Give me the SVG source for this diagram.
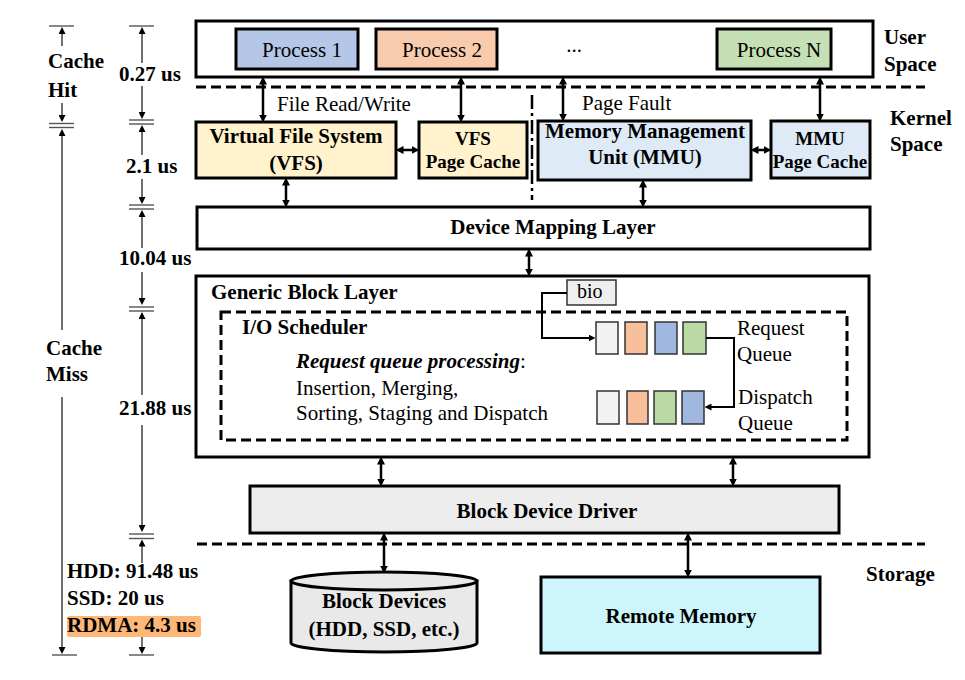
<svg xmlns="http://www.w3.org/2000/svg" width="965" height="680" viewBox="0 0 965 680">
<defs>
<marker id="ah" markerUnits="userSpaceOnUse" markerWidth="8" markerHeight="8" viewBox="0 0 8 8" refX="0.5" refY="4" orient="auto-start-reverse"><path d="M0,0 L8,4 L0,8 z" fill="#000"/></marker>
<marker id="sh" markerUnits="userSpaceOnUse" markerWidth="7" markerHeight="7" viewBox="0 0 7 7" refX="0.5" refY="3.5" orient="auto-start-reverse"><path d="M0,0 L7,3.5 L0,7 z" fill="#000"/></marker>
</defs>
<rect width="965" height="680" fill="#fff"/>

<g id="separators" stroke="#000" stroke-width="3" fill="none">
<line stroke-dasharray="10 5" x1="196" y1="87" x2="925" y2="87"/>
<line stroke-dasharray="10 5" x1="197" y1="544" x2="925" y2="544"/>
<line x1="532" y1="95" x2="532" y2="200" stroke-width="2.5" stroke-dasharray="14 4 3 4"/>
</g>

<g id="labels">
<text font-family="Liberation Serif, serif" font-size="21" font-weight="bold" x="884" y="44">User</text>
<text font-family="Liberation Serif, serif" font-size="21" font-weight="bold" x="884" y="71">Space</text>
<text font-family="Liberation Serif, serif" font-size="21" font-weight="bold" x="890" y="125">Kernel</text>
<text font-family="Liberation Serif, serif" font-size="21" font-weight="bold" x="890" y="151">Space</text>
<text font-family="Liberation Serif, serif" font-size="21" font-weight="bold" x="866" y="581">Storage</text>
<text font-family="Liberation Serif, serif" font-size="21" x="277" y="111">File Read/Write</text>
<text font-family="Liberation Serif, serif" font-size="21" x="582" y="110">Page Fault</text>
</g>

<g id="timeline" stroke="#333" stroke-width="1.4">
<line stroke="#555" x1="49" y1="26" x2="74" y2="26"/>
<line x1="62" y1="46" x2="62" y2="33.5" marker-end="url(#sh)"/>
<line x1="62" y1="103" x2="62" y2="115.5" marker-end="url(#sh)"/>
<line stroke="#555" x1="49" y1="123.5" x2="74" y2="123.5"/>
<line stroke="#555" x1="49" y1="127.5" x2="74" y2="127.5"/>
<line x1="62" y1="330" x2="62" y2="135.5" marker-end="url(#sh)"/>
<line x1="62" y1="397" x2="62" y2="647.5" marker-end="url(#sh)"/>
<line stroke="#555" x1="52" y1="655" x2="77" y2="655"/>
<line stroke="#555" x1="129" y1="26" x2="154" y2="26"/>
<line x1="142" y1="63" x2="142" y2="33.5" marker-end="url(#sh)"/>
<line x1="142" y1="86" x2="142" y2="112.5" marker-end="url(#sh)"/>
<line stroke="#555" x1="129" y1="120" x2="154" y2="120"/>
<line stroke="#555" x1="129" y1="124" x2="154" y2="124"/>
<line x1="142" y1="155" x2="142" y2="131.5" marker-end="url(#sh)"/>
<line x1="142" y1="179" x2="142" y2="197.5" marker-end="url(#sh)"/>
<line stroke="#555" x1="129" y1="205" x2="154" y2="205"/>
<line stroke="#555" x1="129" y1="209" x2="154" y2="209"/>
<line x1="142" y1="248" x2="142" y2="216.5" marker-end="url(#sh)"/>
<line x1="142" y1="272" x2="142" y2="298.5" marker-end="url(#sh)"/>
<line stroke="#555" x1="129" y1="307" x2="154" y2="307"/>
<line stroke="#555" x1="129" y1="311" x2="154" y2="311"/>
<line x1="142" y1="395" x2="142" y2="318.5" marker-end="url(#sh)"/>
<line x1="142" y1="425" x2="142" y2="525.5" marker-end="url(#sh)"/>
<line stroke="#555" x1="129" y1="534" x2="154" y2="534"/>
<line stroke="#555" x1="129" y1="538.5" x2="154" y2="538.5"/>
<line x1="142" y1="563" x2="142" y2="546" marker-end="url(#sh)"/>
<line x1="142" y1="636" x2="142" y2="647.5" marker-end="url(#sh)"/>
<line stroke="#555" x1="129" y1="655" x2="154" y2="655"/>
<rect stroke="none" x="67" y="616" width="134" height="21" rx="2" fill="#fdb877"/>
<text stroke="none" font-family="Liberation Serif, serif" font-size="21" font-weight="bold" x="48" y="68">Cache</text>
<text stroke="none" font-family="Liberation Serif, serif" font-size="21" font-weight="bold" x="48" y="97">Hit</text>
<text stroke="none" font-family="Liberation Serif, serif" font-size="21" font-weight="bold" x="46" y="355">Cache</text>
<text stroke="none" font-family="Liberation Serif, serif" font-size="21" font-weight="bold" x="46" y="381">Miss</text>
<text stroke="none" font-family="Liberation Serif, serif" font-size="21" font-weight="bold" x="119" y="81">0.27 us</text>
<text stroke="none" font-family="Liberation Serif, serif" font-size="21" font-weight="bold" x="126" y="173">2.1 us</text>
<text stroke="none" font-family="Liberation Serif, serif" font-size="21" font-weight="bold" x="119" y="265">10.04 us</text>
<text stroke="none" font-family="Liberation Serif, serif" font-size="21" font-weight="bold" x="119" y="415">21.88 us</text>
<text stroke="none" font-family="Liberation Serif, serif" font-size="21" font-weight="bold" x="67" y="578">HDD: 91.48 us</text>
<text stroke="none" font-family="Liberation Serif, serif" font-size="21" font-weight="bold" x="67" y="605">SSD: 20 us</text>
<text stroke="none" font-family="Liberation Serif, serif" font-size="21" font-weight="bold" x="67" y="632">RDMA: 4.3 us</text>
</g>

<g id="user-space"><rect stroke="#000" stroke-width="3" x="196" y="21" width="677" height="56" fill="#fff"/></g>
<g id="process-1"><rect stroke="#000" stroke-width="3" x="236" y="29" width="122" height="40" fill="#b4c7e7"/><text font-family="Liberation Serif, serif" font-size="21" text-anchor="middle" x="302" y="57">Process 1</text></g>
<g id="process-2"><rect stroke="#000" stroke-width="3" x="376" y="29" width="121" height="40" fill="#f8cbad"/><text font-family="Liberation Serif, serif" font-size="21" text-anchor="middle" x="442" y="57">Process 2</text></g>
<g id="ellipsis"><text font-family="Liberation Serif, serif" font-size="21" text-anchor="middle" x="574" y="52">...</text></g>
<g id="process-n"><rect stroke="#000" stroke-width="3" x="717" y="29" width="114" height="40" fill="#c5e0b4"/><text font-family="Liberation Serif, serif" font-size="21" text-anchor="middle" x="779" y="57">Process N</text></g>

<g id="vfs"><rect stroke="#000" stroke-width="3" x="196" y="122" width="200" height="56" fill="#fff2cc"/><text font-family="Liberation Serif, serif" font-size="21" font-weight="bold" text-anchor="middle" x="296" y="143">Virtual File System</text><text font-family="Liberation Serif, serif" font-size="21" font-weight="bold" text-anchor="middle" x="296" y="170">(VFS)</text></g>
<g id="vfs-page-cache"><rect stroke="#000" stroke-width="3" x="419" y="122" width="108" height="56" fill="#fff2cc"/><text font-family="Liberation Serif, serif" font-size="19" font-weight="bold" text-anchor="middle" x="473" y="145">VFS</text><text font-family="Liberation Serif, serif" font-size="19" font-weight="bold" text-anchor="middle" x="473" y="168">Page Cache</text></g>
<g id="mmu"><rect stroke="#000" stroke-width="3" x="538" y="121" width="213" height="59" fill="#deebf7"/><text font-family="Liberation Serif, serif" font-size="21" font-weight="bold" text-anchor="middle" x="645" y="138">Memory Management</text><text font-family="Liberation Serif, serif" font-size="21" font-weight="bold" text-anchor="middle" x="645" y="164">Unit (MMU)</text></g>
<g id="mmu-page-cache"><rect stroke="#000" stroke-width="3" x="771" y="121" width="99" height="57" fill="#deebf7"/><text font-family="Liberation Serif, serif" font-size="19" font-weight="bold" text-anchor="middle" x="820" y="145">MMU</text><text font-family="Liberation Serif, serif" font-size="19" font-weight="bold" text-anchor="middle" x="820" y="168">Page Cache</text></g>

<g id="device-mapping-layer"><rect stroke="#000" stroke-width="3" x="197" y="207" width="673" height="42" fill="#fff"/><text font-family="Liberation Serif, serif" font-size="21" font-weight="bold" text-anchor="middle" x="553" y="234">Device Mapping Layer</text></g>

<g id="generic-block-layer"><rect stroke="#000" stroke-width="3" x="196" y="276" width="673" height="181" fill="#fff"/><text font-family="Liberation Serif, serif" font-size="21" font-weight="bold" x="211" y="299">Generic Block Layer</text></g>
<g id="io-scheduler"><rect stroke="#000" stroke-width="3" stroke-dasharray="10 5" fill="none" x="221" y="312" width="626" height="128"/><text font-family="Liberation Serif, serif" font-size="21" font-weight="bold" x="242" y="334">I/O Scheduler</text>
<text font-family="Liberation Serif, serif" font-size="21" x="296" y="368"><tspan font-weight="bold" font-style="italic">Request queue processing</tspan>:</text>
<text font-family="Liberation Serif, serif" font-size="21" x="296" y="395">Insertion, Merging,</text>
<text font-family="Liberation Serif, serif" font-size="21" x="296" y="420">Sorting, Staging and Dispatch</text></g>
<g id="bio"><rect x="567" y="280" width="49" height="25" fill="#efefef" stroke="#333" stroke-width="1.5"/><text font-family="Liberation Serif, serif" font-size="20" x="577" y="298">bio</text></g>
<g id="request-queue">
<g stroke="#333" stroke-width="1.5">
<rect x="596" y="322" width="22" height="32" fill="#f2f2f2"/>
<rect x="625" y="322" width="22" height="32" fill="#f8c09a"/>
<rect x="655" y="322" width="22" height="32" fill="#a0b8e0"/>
<rect x="683" y="322" width="23" height="32" fill="#b9d9a5"/>
</g>
<text font-family="Liberation Serif, serif" font-size="21" x="737" y="335">Request</text><text font-family="Liberation Serif, serif" font-size="21" x="737" y="361">Queue</text></g>
<g id="dispatch-queue">
<g stroke="#333" stroke-width="1.5">
<rect x="597" y="391" width="22" height="33" fill="#f2f2f2"/>
<rect x="627" y="391" width="21" height="33" fill="#f8c09a"/>
<rect x="654" y="391" width="22" height="33" fill="#b9d9a5"/>
<rect x="682" y="391" width="22" height="33" fill="#a0b8e0"/>
</g>
<text font-family="Liberation Serif, serif" font-size="21" x="738" y="404">Dispatch</text><text font-family="Liberation Serif, serif" font-size="21" x="738" y="430">Queue</text></g>

<g id="block-device-driver"><rect stroke="#000" stroke-width="3" x="250" y="486" width="589" height="47" fill="#ededed"/><text font-family="Liberation Serif, serif" font-size="21" font-weight="bold" text-anchor="middle" x="547" y="518">Block Device Driver</text></g>
<g id="block-devices"><path stroke="#000" stroke-width="3" d="M291,581 L291,643 A93,9 0 0 0 477,643 L477,581 Z" fill="#e9e9e9"/><ellipse stroke="#000" stroke-width="3" cx="384" cy="581" rx="93" ry="9" fill="#e9e9e9"/><text font-family="Liberation Serif, serif" font-size="21" font-weight="bold" text-anchor="middle" x="384" y="608">Block Devices</text><text font-family="Liberation Serif, serif" font-size="21" font-weight="bold" text-anchor="middle" x="384" y="636">(HDD, SSD, etc.)</text></g>
<g id="remote-memory"><rect stroke="#000" stroke-width="3" x="541" y="577" width="279" height="76" fill="#ccf6fb"/><text font-family="Liberation Serif, serif" font-size="21" font-weight="bold" text-anchor="middle" x="681" y="623">Remote Memory</text></g>

<g id="connectors" stroke="#000" stroke-width="2.5" fill="none">
<line x1="263" y1="84" x2="263" y2="115" marker-start="url(#ah)" marker-end="url(#ah)"/>
<line x1="461" y1="84" x2="461" y2="115" marker-start="url(#ah)" marker-end="url(#ah)"/>
<line x1="563" y1="84" x2="563" y2="114" marker-start="url(#ah)" marker-end="url(#ah)"/>
<line x1="820" y1="84" x2="820" y2="114" marker-start="url(#ah)" marker-end="url(#ah)"/>
<line x1="403" y1="150" x2="412" y2="150" marker-start="url(#ah)" marker-end="url(#ah)"/>
<line x1="758" y1="150" x2="764" y2="150" marker-start="url(#ah)" marker-end="url(#ah)"/>
<line x1="286" y1="185" x2="286" y2="200" marker-start="url(#ah)" marker-end="url(#ah)"/>
<line x1="643" y1="187" x2="643" y2="200" marker-start="url(#ah)" marker-end="url(#ah)"/>
<line x1="529" y1="256" x2="529" y2="269" marker-start="url(#ah)" marker-end="url(#ah)"/>
<line x1="381" y1="464" x2="381" y2="479" marker-start="url(#ah)" marker-end="url(#ah)"/>
<line x1="733" y1="464" x2="733" y2="479" marker-start="url(#ah)" marker-end="url(#ah)"/>
<line x1="384" y1="540" x2="384" y2="566" marker-start="url(#ah)" marker-end="url(#ah)"/>
<line x1="688" y1="540" x2="688" y2="570" marker-start="url(#ah)" marker-end="url(#ah)"/>
<path stroke-width="2" d="M567,293 H542 V338 H589" marker-end="url(#sh)"/>
<path stroke-width="2" d="M706,338 H734 V407 H711" marker-end="url(#sh)"/>
</g>
</svg>
